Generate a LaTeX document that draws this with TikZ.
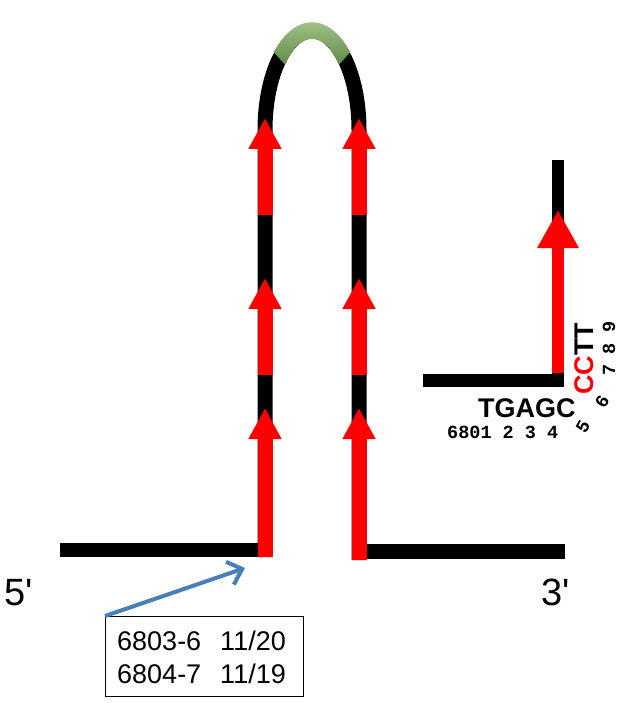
\documentclass[tikz,border=0pt]{standalone}
\usepackage{fontspec}
\setmainfont{Liberation Sans}
\newfontfamily\monof{Liberation Mono}
\usetikzlibrary{arrows.meta}
\definecolor{greenlight}{RGB}{176,204,148}
\definecolor{greendark}{RGB}{96,140,72}
\definecolor{ptrblue}{RGB}{74,126,187}
\tikzset{
  strand/.style={line width=15pt, black, line cap=butt},
  redarrow/.style={line width=15pt, red, line cap=butt, -{Triangle[width=31pt,length=31pt]}},
  smallred/.style={line width=12pt, red, line cap=butt, -{Triangle[width=39pt,length=38pt]}},
  endlbl/.style={font=\fontsize{38}{38}\selectfont, inner sep=0pt},
  seqlbl/.style={font=\fontsize{27}{27}\selectfont\bfseries, inner sep=0pt},
  numlbl/.style={font=\fontsize{18.5}{18.5}\selectfont\monof\bfseries, inner sep=0pt},
  boxtxt/.style={font=\fontsize{27}{27}\selectfont, inner sep=0pt, anchor=base west}
}
\begin{document}
\begin{tikzpicture}[x=1pt,y=-1pt]
\useasboundingbox (0,0) rectangle (622,703);
% key coordinates
\coordinate (L0) at (60,550);
\coordinate (L1) at (258,550);
\coordinate (R0) at (366,551);
\coordinate (R1) at (565,551);
\coordinate (SLb) at (265,557);
\coordinate (SLt) at (265,130);
\coordinate (SRb) at (359,560);
% bottom strands
\draw[strand, line width=14pt] (L0) -- (L1);
\draw[strand, line width=15pt] (R0) -- (R1);
% hairpin
\draw[strand] (SLb) -- (SLt) arc[start angle=180, end angle=360, x radius=47, y radius=99] -- (SRb);
% green loop segment (shaded band between outer and inner ellipse)
\shade[top color=greenlight, bottom color=greendark, shading angle=0]
  (273.8,52.2) arc[start angle=226, end angle=314, x radius=55, y radius=107]
  -- (339.1,64.5) arc[start angle=314, end angle=226, x radius=39, y radius=91] -- cycle;
% red arrows on left stem
\coordinate (a1s) at (265,557); \coordinate (a1t) at (265,408);
\coordinate (a2s) at (265,375); \coordinate (a2t) at (265,278);
\coordinate (a3s) at (265,215); \coordinate (a3t) at (265,118);
\draw[redarrow] (a1s) -- (a1t);
\draw[redarrow] (a2s) -- (a2t);
\draw[redarrow] (a3s) -- (a3t);
% red arrows on right stem
\coordinate (b1s) at (359,560); \coordinate (b1t) at (359,408);
\coordinate (b2s) at (359,375); \coordinate (b2t) at (359,278);
\coordinate (b3s) at (359,215); \coordinate (b3t) at (359,118);
\draw[redarrow] (b1s) -- (b1t);
\draw[redarrow] (b2s) -- (b2t);
\draw[redarrow] (b3s) -- (b3t);
% right small primer
\coordinate (P0) at (423,380);
\coordinate (P1) at (564,380);
\coordinate (Pv0) at (557.5,387);
\coordinate (Pv1) at (557.5,160);
\draw[strand, line width=12pt] (Pv0) -- (Pv1);
\draw[strand, line width=13pt] (P0) -- (P1);
\coordinate (c1s) at (558,373); \coordinate (c1t) at (558,210);
\draw[smallred] (c1s) -- (c1t);
% sequence labels
\node[seqlbl, anchor=base west] (tg) at (478,417) {TGAGC};
\node[seqlbl, anchor=base west, rotate=90] (cc) at (593.5,395) {\textcolor{red}{CC}TT};
\node[numlbl, anchor=base west] (n1) at (447,438) {6801 2 3 4};
\node[numlbl, rotate=60] (n5) at (583,427) {5};
\node[numlbl, rotate=60] (n6) at (602,402) {6};
\node[numlbl, rotate=90] (n7) at (609,370) {7};
\node[numlbl, rotate=90] (n8) at (609,349) {8};
\node[numlbl, rotate=90] (n9) at (609,327) {9};
% end labels
\node[endlbl, anchor=base west] (five) at (4,605) {5\textquotesingle};
\node[endlbl, anchor=base west] (three) at (541,605) {3\textquotesingle};
% info box
\node[draw, line width=1.2pt, minimum width=198pt, minimum height=80pt, anchor=north west, inner sep=0pt] (box) at (105,616) {};
\node[boxtxt] (t1) at (117,650) {6803-6\hspace{19pt}11/20};
\node[boxtxt] (t2) at (117,683) {6804-7\hspace{19pt}11/19};
\coordinate (tip) at (245,568);
\draw[ptrblue, line width=4pt, -{Straight Barb[length=13pt,width=24pt]}] (box.north west) -- (tip);
\end{tikzpicture}
\end{document}
